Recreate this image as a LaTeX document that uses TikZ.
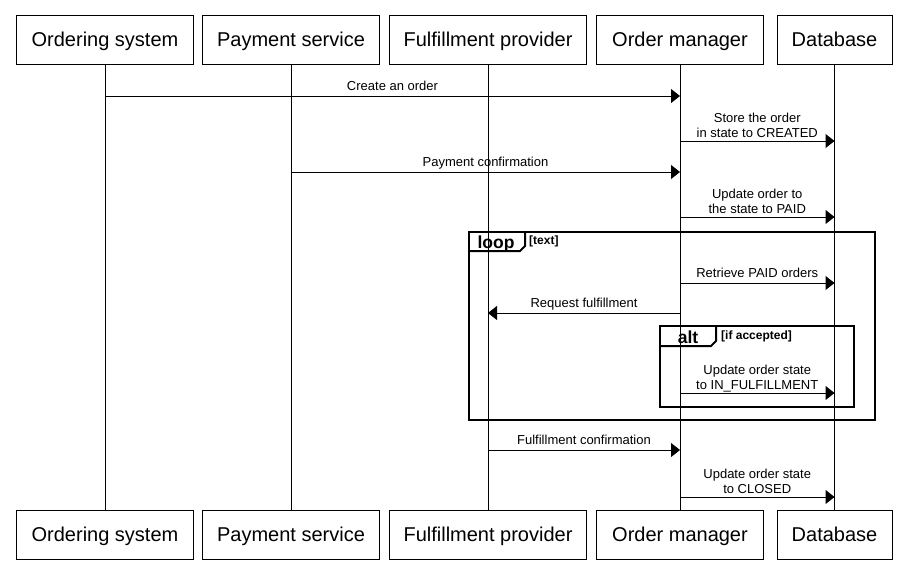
\documentclass[tikz,border=0pt]{standalone}
\usepackage{fontspec}
\setmainfont{Liberation Sans}
\usetikzlibrary{arrows.meta}
\begin{document}
\begin{tikzpicture}[x=1pt,y=-1pt,
  actor/.style={draw,line width=1pt,minimum height=49pt,inner sep=0pt,text height=14.5pt,text depth=0pt,font=\fontsize{20}{24}\selectfont},
  life/.style={line width=1pt},
  msg/.style={line width=1pt,-{Triangle[length=9pt,width=14pt]}},
  lbl/.style={font=\fontsize{13}{15}\selectfont,align=center,anchor=south,inner sep=0pt,text depth=0pt,yshift=5pt},
  lbltwo/.style={lbl,yshift=-2pt},
  frame/.style={line width=2pt},
  tabtxt/.style={font=\bfseries\fontsize{17.5}{20}\selectfont,inner sep=0pt,anchor=base},
  guard/.style={font=\bfseries\fontsize{12}{14}\selectfont,inner sep=0pt,anchor=base west}]
\useasboundingbox (0,0) rectangle (906,571);
% top actors
\node[actor,minimum width=177pt] (osT) at (105,39.5) {Ordering system};
\node[actor,minimum width=177pt] (psT) at (291,39.5) {Payment service};
\node[actor,minimum width=197pt] (fpT) at (488,39.5) {Fulfillment provider};
\node[actor,minimum width=167pt] (omT) at (680,39.5) {Order manager};
\node[actor,minimum width=115pt] (dbT) at (834.5,39.5) {Database};
% bottom actors
\node[actor,minimum width=177pt] (osB) at (105,534.5) {Ordering system};
\node[actor,minimum width=177pt] (psB) at (291,534.5) {Payment service};
\node[actor,minimum width=197pt] (fpB) at (488,534.5) {Fulfillment provider};
\node[actor,minimum width=167pt] (omB) at (680,534.5) {Order manager};
\node[actor,minimum width=115pt] (dbB) at (834.5,534.5) {Database};
% lifelines
\foreach \a in {os,ps,fp,om,db} \draw[life] (\a T.south) -- (\a B.north);
% frames
\draw[frame] (469,232) rectangle (875,420);
\draw[frame] (469,251) -- (520,251) -- (525,246) -- (525,232);
\node[tabtxt] (looplbl) at (496,248) {loop};
\node[guard] (loopg) at (529,244.5) {[text]};
\draw[frame] (660,326) rectangle (854,407);
\draw[frame] (660,346) -- (711,346) -- (716,341) -- (716,326);
\node[tabtxt] (altlbl) at (688,343) {alt};
\node[guard] (altg) at (721,339) {[if accepted]};
% messages
\draw[msg] (osT.south |- 0,96) -- node[lbl] {Create an order} (omT.south |- 0,96);
\draw[msg] (omT.south |- 0,141) -- node[lbltwo] {Store the order\\in state to CREATED} (dbT.south |- 0,141);
\draw[msg] (psT.south |- 0,172) -- node[lbl] {Payment confirmation} (omT.south |- 0,172);
\draw[msg] (omT.south |- 0,217) -- node[lbltwo] {Update order to\\the state to PAID} (dbT.south |- 0,217);
\draw[msg] (omT.south |- 0,283) -- node[lbl] {Retrieve PAID orders} (dbT.south |- 0,283);
\draw[msg] (omT.south |- 0,313) -- node[lbl] {Request fulfillment} (fpT.south |- 0,313);
\draw[msg] (omT.south |- 0,393) -- node[lbltwo] {Update order state\\to IN\_FULFILLMENT} (dbT.south |- 0,393);
\draw[msg] (fpT.south |- 0,450) -- node[lbl] {Fulfillment confirmation} (omT.south |- 0,450);
\draw[msg] (omT.south |- 0,497) -- node[lbltwo] {Update order state\\to CLOSED} (dbT.south |- 0,497);
\end{tikzpicture}
\end{document}
